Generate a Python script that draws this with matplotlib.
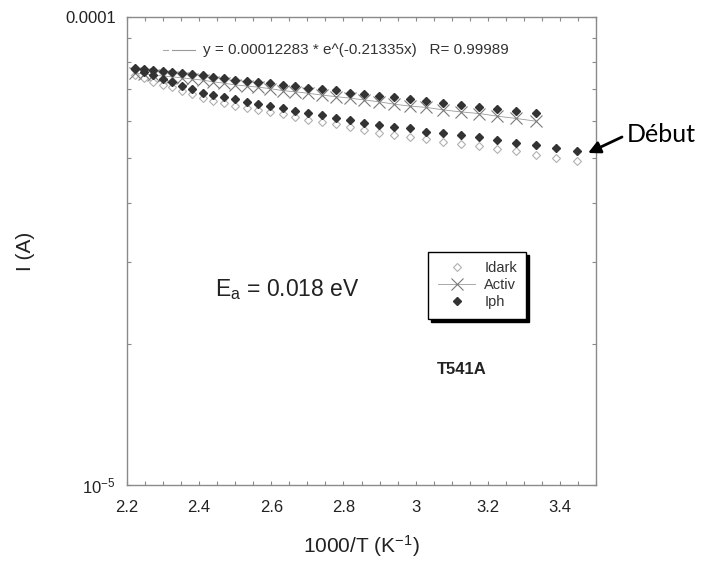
import numpy as np
import matplotlib
matplotlib.use('Agg')
import matplotlib.pyplot as plt
from matplotlib.lines import Line2D
from matplotlib.ticker import FixedLocator, FixedFormatter, MultipleLocator, NullFormatter

plt.rcParams['font.family'] = ['Liberation Sans', 'DejaVu Sans']
plt.rcParams['mathtext.fontset'] = 'custom'
plt.rcParams['mathtext.rm'] = 'Liberation Sans'
plt.rcParams['mathtext.it'] = 'Liberation Sans'

# 1000/T (K^-1), T = 450 K ... 290 K
x_val = [2.222, 2.247, 2.273, 2.299, 2.326, 2.353, 2.381, 2.410, 2.439, 2.469,
         2.500, 2.532, 2.564, 2.597, 2.632, 2.667, 2.703, 2.740, 2.778, 2.817,
         2.857, 2.899, 2.941, 2.985, 3.030, 3.077, 3.125, 3.175, 3.226, 3.279,
         3.333, 3.390, 3.448]

# courants en unites de 1e-5 A
iph_haut = [7.79, 7.74, 7.70, 7.67, 7.63, 7.60, 7.57, 7.52, 7.45, 7.41,
            7.34, 7.31, 7.26, 7.22, 7.16, 7.12, 7.05, 7.01, 6.97, 6.89,
            6.84, 6.79, 6.74, 6.68, 6.63, 6.54, 6.49, 6.43, 6.37, 6.30,
            6.24]
activ = [7.60, 7.55, 7.52, 7.48, 7.45, 7.41, 7.37, 7.33, 7.27, 7.22,
         7.16, 7.12, 7.08, 7.03, 6.96, 6.92, 6.87, 6.81, 6.76, 6.71,
         6.65, 6.59, 6.51, 6.45, 6.41, 6.33, 6.27, 6.22, 6.14, 6.07,
         5.99]
iph_bas = [7.74, 7.63, 7.52, 7.37, 7.25, 7.12, 7.01, 6.89, 6.81, 6.74,
           6.67, 6.59, 6.52, 6.45, 6.38, 6.31, 6.24, 6.17, 6.09, 6.02,
           5.94, 5.88, 5.83, 5.78, 5.69, 5.64, 5.60, 5.55, 5.46, 5.39,
           5.33, 5.25, 5.17]
idark = [7.52, 7.40, 7.27, 7.16, 7.08, 6.96, 6.84, 6.72, 6.61, 6.54,
         6.45, 6.40, 6.33, 6.26, 6.19, 6.12, 6.02, 5.97, 5.91, 5.83,
         5.73, 5.66, 5.60, 5.55, 5.48, 5.41, 5.35, 5.30, 5.22, 5.16,
         5.08, 5.00, 4.92]

x = np.array(x_val)
iph_haut = np.array(iph_haut) * 1e-5
activ = np.array(activ) * 1e-5
iph_bas = np.array(iph_bas) * 1e-5
idark = np.array(idark) * 1e-5

fig = plt.figure(figsize=(7.02, 5.63), dpi=100)
ax = fig.add_axes([127 / 702, 1 - 485 / 563, 469 / 702, 468 / 563])

gris_cadre = '#8a8a8a'
c_dark = '#b0b0b0'
c_activ = '#7a7a7a'
c_iph = '#333333'

ax.plot(x, idark, linestyle='none', marker='D', markersize=4.5,
        markerfacecolor='white', markeredgecolor=c_dark, markeredgewidth=0.8,
        zorder=3)
ax.plot(x[:len(activ)], activ, color='#9a9a9a', linewidth=0.6, marker='x',
        markersize=8.5, markeredgecolor=c_activ, markeredgewidth=0.8, zorder=4)
ax.plot(x, iph_bas, linestyle='none', marker='D', markersize=4.5,
        color=c_iph, zorder=5)
ax.plot(x[:len(iph_haut)], iph_haut, linestyle='none', marker='D',
        markersize=4.5, color=c_iph, zorder=5)

ax.set_yscale('log')
ax.set_xlim(2.2, 3.5)
ax.set_ylim(1e-5, 1e-4)

ax.xaxis.set_major_locator(FixedLocator([2.2, 2.4, 2.6, 2.8, 3.0, 3.2, 3.4]))
ax.xaxis.set_major_formatter(FixedFormatter(['2.2', '2.4', '2.6', '2.8', '3', '3.2', '3.4']))
ax.xaxis.set_minor_locator(MultipleLocator(0.05))
ax.yaxis.set_major_locator(FixedLocator([1e-5, 1e-4]))
ax.yaxis.set_major_formatter(FixedFormatter([r'10$^{\mathregular{-5}}$', '0.0001']))
ax.yaxis.set_minor_locator(FixedLocator([k * 1e-5 for k in range(2, 10)]))
ax.yaxis.set_minor_formatter(NullFormatter())

ax.tick_params(which='both', direction='in', top=True, right=True,
               length=3, width=0.8, color=gris_cadre, labelsize=12,
               labelcolor='#222222')
ax.tick_params(axis='x', which='major', pad=11)
ax.tick_params(axis='y', which='major', pad=8)
for s in ax.spines.values():
    s.set_color(gris_cadre)
    s.set_linewidth(1.0)

ax.set_xlabel('1000/T (K$^{\\mathregular{-1}}$)', fontsize=15, color='#222222',
              labelpad=13)
ax.set_ylabel('I (A)', fontsize=15, color='#222222', labelpad=22)

# equation de l'ajustement
ax.plot([0.077, 0.088], [0.929, 0.929], transform=ax.transAxes,
        color='#aaaaaa', linewidth=0.8)
ax.plot([0.097, 0.145], [0.929, 0.929], transform=ax.transAxes,
        color='#999999', linewidth=0.8)
ax.text(0.162, 0.929, 'y = 0.00012283 * e^(-0.21335x)   R= 0.99989',
        transform=ax.transAxes, fontsize=11, color='#333333', va='center')

ax.text(0.188, 0.417, r'E$_{\mathregular{a}}$ = 0.018 eV', transform=ax.transAxes,
        fontsize=16.5, color='#222222', va='center')
ax.text(0.661, 0.246, 'T541A', transform=ax.transAxes, fontsize=12,
        fontweight='bold', color='#222222', va='center')

handles = [
    Line2D([], [], linestyle='none', marker='D', markersize=4,
           markerfacecolor='white', markeredgecolor=c_dark, markeredgewidth=0.8),
    Line2D([], [], color='#9a9a9a', linewidth=0.6, marker='x', markersize=8,
           markeredgecolor=c_activ, markeredgewidth=0.8),
    Line2D([], [], linestyle='none', marker='D', markersize=4, color=c_iph),
]
leg = ax.legend(handles, ['Idark', 'Activ', 'Iph'], loc='upper left',
                bbox_to_anchor=(0.642, 0.498), fontsize=10.5, frameon=True,
                fancybox=False, shadow={'color': 'black', 'alpha': 1},
                edgecolor='black', handlelength=2.6, labelspacing=0.2,
                borderpad=0.65, handletextpad=0.6, borderaxespad=0)
leg.get_frame().set_linewidth(1.0)
for t in leg.get_texts():
    t.set_color('#333333')

# annotation du premier point
fig.text(627 / 702, 1 - 135 / 563, 'Début', fontsize=18, family=['Lato', 'DejaVu Sans'],
         va='center', ha='left', color='black')
ax.annotate('', xy=(588 / 702, 1 - 153 / 563), xycoords='figure fraction',
            xytext=(622 / 702, 1 - 137 / 563), textcoords='figure fraction',
            arrowprops=dict(arrowstyle='-|>', color='black', lw=2,
                            mutation_scale=18, shrinkA=0, shrinkB=0),
            annotation_clip=False)

fig.savefig('out.png', dpi=100)
